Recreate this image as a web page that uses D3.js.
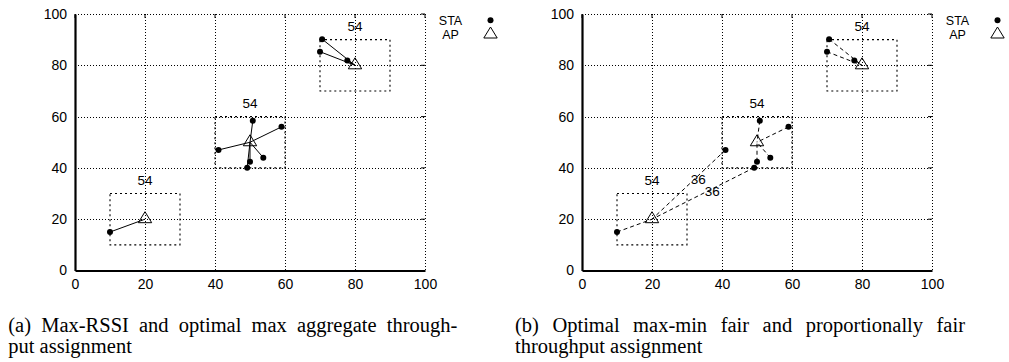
<!DOCTYPE html>
<html><head><meta charset="utf-8">
<script src="https://cdn.jsdelivr.net/npm/d3@7"></script>
<style>
html,body{margin:0;padding:0;background:#fff;}
svg{display:block;}
text{font-family:"Liberation Sans",Arial,Helvetica,sans-serif;fill:#000;}
.cap{font-family:"Liberation Serif","Times New Roman",serif;font-size:20.5px;}
</style></head>
<body>
<svg id="chart" width="1009" height="362"></svg>
<script>
// ---- data ----
const ticks = [0, 20, 40, 60, 80, 100];
const apX = [20, 50, 80];
const apY = [20, 50, 80];
const apRate = ["54", "54", "54"];
const cellHalf = 10;
const staX = [10, 41, 50.8, 59, 50, 49.2, 53.8, 70.6, 70, 77.8];
const staY = [15, 47, 58.4, 56, 42.4, 40.1, 44, 90.2, 85.3, 81.9];
const assignA = [0, 1, 1, 1, 1, 1, 1, 2, 2, 2];
const assignB = [0, 0, 1, 1, 1, 0, 1, 2, 2, 2];
const linkLabelX = [33.2, 37.2];
const linkLabelY = [35.7, 30.7];
const linkLabelText = ["36", "36"];
const legendLabels = ["STA", "AP"];
const captionA = ["(a) Max-RSSI and optimal max aggregate through-", "put assignment"];
const captionB = ["(b) Optimal max-min fair and proportionally fair", "throughput assignment"];

const svg = d3.select("#chart");
const W = 350, H = 256.5, TOP = 14;
const tri = "M0,-7.5L6.7,3.5L-6.7,3.5Z";

function panel(left, assign, dashed, linkLabels) {
  const g = svg.append("g").attr("transform", `translate(${left},${TOP})`);
  const x = d3.scaleLinear().domain([0, 100]).range([0, W]);
  const y = d3.scaleLinear().domain([0, 100]).range([H, 0]);

  // grid (dotted), includes top/right borders
  g.selectAll(".gx").data(ticks.filter(t => t > 0)).join("line")
    .attr("x1", d => Math.round(x(d)) + 0.5).attr("x2", d => Math.round(x(d)) + 0.5)
    .attr("y1", 0).attr("y2", H)
    .attr("stroke", "#000").attr("stroke-width", 1).attr("stroke-dasharray", "1,2");
  g.selectAll(".gy").data(ticks.filter(t => t > 0)).join("line")
    .attr("y1", d => Math.round(y(d)) + 0.5).attr("y2", d => Math.round(y(d)) + 0.5)
    .attr("x1", 0).attr("x2", W)
    .attr("stroke", "#000").attr("stroke-width", 1).attr("stroke-dasharray", "1,2");

  // small inner ticks on top and right
  g.selectAll(".tt").data(ticks).join("line")
    .attr("x1", d => x(d)).attr("x2", d => x(d)).attr("y1", 0).attr("y2", 4)
    .attr("stroke", "#000");
  g.selectAll(".tr").data(ticks).join("line")
    .attr("y1", d => y(d)).attr("y2", d => y(d)).attr("x1", W - 4).attr("x2", W)
    .attr("stroke", "#000");

  // axes
  const ax = g.append("g").attr("transform", `translate(0,${H})`)
    .call(d3.axisBottom(x).tickValues(ticks).tickSize(0).tickPadding(9));
  const ay = g.append("g")
    .call(d3.axisLeft(y).tickValues(ticks).tickSize(0).tickPadding(8));
  [ax, ay].forEach(a => {
    a.select(".domain").attr("stroke", "#000").attr("stroke-width", 2.2);
    a.selectAll("text").style("font-size", "14px").attr("fill", "#000")
      .style("font-family", '"Liberation Sans",Arial,sans-serif');
  });

  // cells
  g.selectAll(".cell").data(apX).join("rect")
    .attr("x", (d, i) => x(apX[i] - cellHalf)).attr("y", (d, i) => y(apY[i] + cellHalf))
    .attr("width", (d, i) => x(apX[i] + cellHalf) - x(apX[i] - cellHalf))
    .attr("height", (d, i) => y(apY[i] - cellHalf) - y(apY[i] + cellHalf))
    .attr("fill", "none").attr("stroke", "#000").attr("stroke-width", 1.1)
    .attr("stroke-dasharray", "2,3");
  g.selectAll(".rate").data(apRate).join("text")
    .attr("x", (d, i) => x(apX[i])).attr("y", (d, i) => y(apY[i] + cellHalf + 5.2))
    .attr("dy", "0.35em").attr("text-anchor", "middle").style("font-size", "13.5px").text(d => d);

  // links
  g.selectAll(".link").data(staX).join("line")
    .attr("x1", (d, i) => x(staX[i])).attr("y1", (d, i) => y(staY[i]))
    .attr("x2", (d, i) => x(apX[assign[i]])).attr("y2", (d, i) => y(apY[assign[i]]))
    .attr("stroke", "#000").attr("stroke-width", 1)
    .attr("stroke-dasharray", dashed ? "4,3" : null);

  if (linkLabels) {
    g.selectAll(".ll").data(linkLabelText).join("text")
      .attr("x", (d, i) => x(linkLabelX[i])).attr("y", (d, i) => y(linkLabelY[i]))
      .attr("dy", "0.35em").attr("text-anchor", "middle").style("font-size", "13.5px").text(d => d);
  }

  // STAs
  g.selectAll(".sta").data(staX).join("circle")
    .attr("cx", (d, i) => x(staX[i])).attr("cy", (d, i) => y(staY[i])).attr("r", 3).attr("fill", "#000");
  // APs
  g.selectAll(".ap").data(apX).join("path")
    .attr("d", tri).attr("transform", (d, i) => `translate(${x(apX[i])},${y(apY[i])})`)
    .attr("fill", "none").attr("stroke", "#000").attr("stroke-width", 1);

  // legend
  const lg = g.append("g").attr("transform", `translate(${W},0)`);
  lg.selectAll("text").data(legendLabels).join("text")
    .attr("x", 25.5).attr("y", (d, i) => 6.2 + i * 14.4).attr("dy", "0.35em")
    .attr("text-anchor", "middle").style("font-size", "12.5px").text(d => d);
  lg.append("circle").attr("cx", 65.5).attr("cy", 6.2).attr("r", 3).attr("fill", "#000");
  lg.append("path").attr("d", tri).attr("transform", "translate(65.5,20.5)")
    .attr("fill", "none").attr("stroke", "#000");
}

panel(75, assignA, false, false);
panel(582, assignB, true, true);

function caption(lines, x0, width) {
  const g = svg.append("g");
  // justified first line
  const words = lines[0].split(" ");
  const ws = words.map(w => {
    const t = g.append("text").attr("class", "cap").attr("y", 331.5).text(w);
    return { t, w: t.node().getComputedTextLength() };
  });
  const total = d3.sum(ws, d => d.w);
  const gap = (width - total) / (words.length - 1);
  let cx = x0;
  ws.forEach(d => { d.t.attr("x", cx); cx += d.w + gap; });
  g.append("text").attr("class", "cap").attr("x", x0).attr("y", 353).text(lines[1]);
}
caption(captionA, 8.3, 449);
caption(captionB, 515, 450);
</script>
</body></html>
